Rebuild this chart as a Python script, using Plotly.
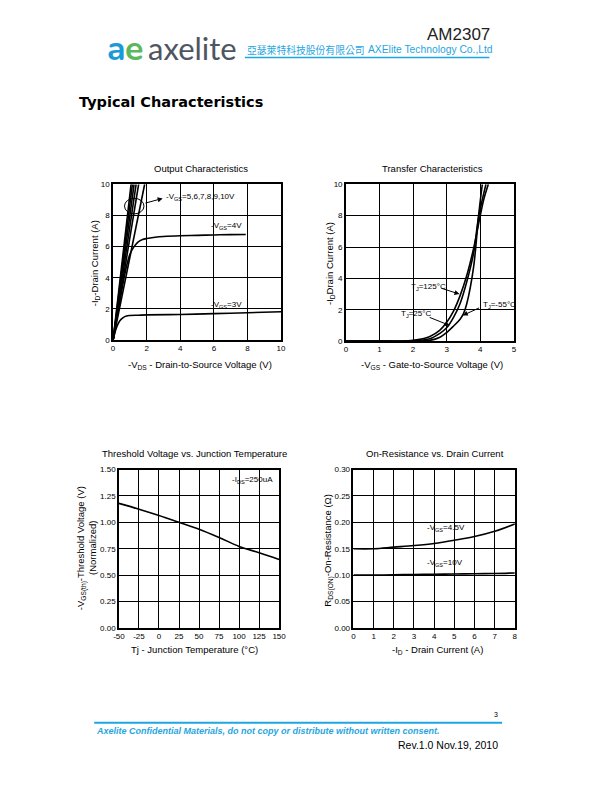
import plotly.graph_objects as go

# ---------------- data ----------------
# Output characteristics
out_hi_labels = ["5", "6", "7", "8", "9", "10"]
out_hi_vds = [[0, 0.95, 1.88], [0, 0.77, 1.52], [0, 0.70, 1.37], [0, 0.64, 1.25], [0, 0.59, 1.15], [0, 0.55, 1.07]]
out_hi_id = [[0, 5.0, 10], [0, 5.0, 10], [0, 5.0, 10], [0, 5.0, 10], [0, 5.0, 10], [0, 5.0, 10]]
out_v4_vds = [0, 0.25, 0.5, 0.75, 1.0, 1.25, 1.5, 1.75, 2.0, 2.5, 3.0, 4.0, 5.0, 6.0, 7.0, 7.9]
out_v4_id = [0, 1.6, 3.1, 4.5, 5.5, 6.0, 6.3, 6.45, 6.52, 6.6, 6.65, 6.7, 6.72, 6.75, 6.77, 6.78]
out_v3_vds = [0, 0.2, 0.4, 0.6, 0.8, 1.0, 1.5, 2.0, 4.0, 6.0, 8.0, 10.0]
out_v3_id = [0, 0.8, 1.25, 1.45, 1.55, 1.58, 1.6, 1.62, 1.65, 1.7, 1.76, 1.82]

# Transfer characteristics
tr_125_vgs = [0, 1.0, 1.5, 2.0, 2.5, 2.8, 3.0, 3.2, 3.4, 3.6, 3.8, 4.0, 4.1, 4.24]
tr_125_id = [0, 0.0, 0.01, 0.05, 0.3, 0.7, 1.2, 1.9, 2.9, 4.2, 5.9, 8.0, 9.0, 10]
tr_25_vgs = [0, 1.0, 2.0, 2.5, 2.8, 3.0, 3.2, 3.4, 3.6, 3.8, 3.95, 4.17]
tr_25_id = [0, 0.0, 0.02, 0.15, 0.5, 0.85, 1.5, 2.4, 3.8, 5.6, 7.9, 10]
tr_m55_vgs = [0, 1.0, 2.0, 2.5, 2.8, 3.0, 3.2, 3.4, 3.5, 3.6, 3.8, 3.95, 4.06]
tr_m55_id = [0, 0.0, 0.0, 0.05, 0.25, 0.55, 0.95, 1.4, 1.75, 2.4, 4.7, 8.0, 10]

# Threshold voltage vs temperature
th_tj = [-50, -25, 0, 25, 50, 75, 100, 125, 150]
th_vth = [1.18, 1.125, 1.065, 1.0, 0.935, 0.857, 0.772, 0.712, 0.648]
th_tick_vals = [-50, -25, 0, 25, 50, 75, 100, 125, 150]
th_tick_text = ["-50", "-25", "0", "25", "50", "75", "100", "125", "150"]

# On-resistance vs drain current
ron_id = [0, 1, 2, 3, 4, 5, 6, 7, 8]
ron_45 = [0.150, 0.150, 0.153, 0.156, 0.160, 0.166, 0.173, 0.183, 0.197]
ron_10 = [0.100, 0.100, 0.1005, 0.101, 0.1015, 0.102, 0.1025, 0.103, 0.104]

# The page body has an 8px margin; the figure is sized to fit inside the window
OFF = 8
W, H = 612 - 2 * OFF, 792 - 2 * OFF
FONT = "Liberation Sans, Arial, sans-serif"
BLUE = "#1fa6e2"


def px(x):
    return (x - OFF) / W


def py(y):
    return 1 - (y - OFF) / H


fig = go.Figure()

line = dict(color="black", width=1.6)
for xs, ys in zip(out_hi_vds, out_hi_id):
    fig.add_trace(go.Scatter(x=xs, y=ys, mode="lines", line=line, xaxis="x", yaxis="y", showlegend=False))
fig.add_trace(go.Scatter(x=out_v4_vds, y=out_v4_id, mode="lines", line=dict(color="black", width=1.6, shape="spline"), xaxis="x", yaxis="y", showlegend=False))
fig.add_trace(go.Scatter(x=out_v3_vds, y=out_v3_id, mode="lines", line=dict(color="black", width=1.6, shape="spline"), xaxis="x", yaxis="y", showlegend=False))

for xs, ys in [(tr_125_vgs, tr_125_id), (tr_25_vgs, tr_25_id), (tr_m55_vgs, tr_m55_id)]:
    fig.add_trace(go.Scatter(x=xs, y=ys, mode="lines", line=dict(color="black", width=1.6, shape="spline"), xaxis="x2", yaxis="y2", showlegend=False))

fig.add_trace(go.Scatter(x=th_tj, y=th_vth, mode="lines", line=dict(color="black", width=1.6, shape="spline"), xaxis="x3", yaxis="y3", showlegend=False))

fig.add_trace(go.Scatter(x=ron_id, y=ron_45, mode="lines", line=dict(color="black", width=1.6, shape="spline"), xaxis="x4", yaxis="y4", showlegend=False))
fig.add_trace(go.Scatter(x=ron_id, y=ron_10, mode="lines", line=dict(color="black", width=1.6, shape="spline"), xaxis="x4", yaxis="y4", showlegend=False))


def ax(dom, rng, dtick, fmt=None):
    d = dict(domain=dom, range=rng, dtick=dtick, tick0=rng[0], showgrid=True, gridcolor="black", gridwidth=1,
             showline=True, linecolor="black", linewidth=1.5, mirror=True, ticks="", zeroline=False,
             tickfont=dict(family=FONT, size=8, color="black"), fixedrange=True)
    if fmt:
        d["tickformat"] = fmt
    return d


x3 = ax([px(115.3), px(279)], [-50, 150], 25)
x3.update(tickmode="array", tickvals=th_tick_vals, ticktext=th_tick_text)

layout = dict(
    width=W, height=H, autosize=False, margin=dict(l=0, r=0, t=0, b=0),
    paper_bgcolor="white", plot_bgcolor="white",
    xaxis=dict(**ax([px(109.3), px(281)], [0, 10], 2), anchor="y"),
    yaxis=dict(**ax([py(340), py(182.3)], [0, 10], 2), anchor="x"),
    xaxis2=dict(**ax([px(347.3), px(519)], [0, 5], 1), anchor="y2"),
    yaxis2=dict(**ax([py(341), py(182.3)], [0, 10], 2), anchor="x2"),
    xaxis3=dict(**x3, anchor="y3"),
    yaxis3=dict(**ax([py(631), py(471)], [0, 1.5], 0.25, ".2f"), anchor="x3"),
    xaxis4=dict(**ax([px(355), px(520)], [0, 8], 1), anchor="y4"),
    yaxis4=dict(**ax([py(631), py(471)], [0, 0.3], 0.05, ".2f"), anchor="x4"),
)
fig.update_layout(**layout)

ann = []


def ptext(text, x, y, size=9, xanchor="center", yanchor="middle", color="black", angle=0, family=FONT):
    ann.append(dict(text=text, x=px(x), y=py(y), xref="paper", yref="paper", showarrow=False,
                    xanchor=xanchor, yanchor=yanchor, textangle=angle,
                    font=dict(family=family, size=size, color=color)))


def dtext(text, x, y, xr, yr, size=8, xanchor="left"):
    ann.append(dict(text=text, x=x, y=y, xref=xr, yref=yr, showarrow=False, xanchor=xanchor, yanchor="middle",
                    font=dict(family=FONT, size=size, color="black")))


def arrow(x, y, axx, ayy, xr, yr):
    ann.append(dict(text="", x=x, y=y, ax=axx, ay=ayy, xref=xr, yref=yr, axref=xr, ayref=yr,
                    showarrow=True, arrowhead=2, arrowsize=1, arrowwidth=1, arrowcolor="black", standoff=0))


# chart titles
ptext("Output Characteristics", 199, 166, 9.5)
ptext("Transfer Characteristics", 436, 166, 9.5)
ptext("Threshold Voltage vs. Junction Temperature", 193, 455, 9.5)
ptext("On-Resistance vs. Drain Current", 438, 455, 9.5)

# axis titles
ptext("-V<sub>DS</sub> - Drain-to-Source Voltage (V)", 198, 365, 9.5)
ptext("-V<sub>GS</sub> - Gate-to-Source Voltage (V)", 435, 365, 9.5)
ptext("Tj - Junction Temperature (°C)", 193, 653, 9.5)
ptext("-I<sub>D</sub> - Drain Current (A)", 441, 653, 9.5)
ptext("-I<sub>D</sub>-Drain Current (A)", 91, 262, 9.5, angle=-90)
ptext("-I<sub>D</sub>Drain Current (A)", 331, 262, 9.5, angle=-90)
ptext("-V<sub>GS(th)</sub>-Threshold Voltage (V)", 77, 550, 9.5, angle=-90)
ptext("(Normalized)", 88, 550, 9.5, angle=-90)
ptext("R<sub>DS(ON)</sub>-On-Resistance (Ω)", 330, 552, 9.5, angle=-90)

# chart 1 labels
dtext("-V<sub>GS</sub>=5,6,7,8,9,10V", 3.05, 9.2, "x", "y")
dtext("-V<sub>GS</sub>=4V", 5.7, 7.35, "x", "y")
dtext("-V<sub>GS</sub>=3V", 5.7, 2.28, "x", "y")
arrow(2.95, 9.09, 1.84, 8.77, "x", "y")

# chart 2 labels
dtext("T<sub>J</sub>=125°C", 1.87, 3.47, "x2", "y2")
dtext("T<sub>J</sub>=25°C", 1.58, 1.76, "x2", "y2")
dtext("T<sub>J</sub>=-55°C", 4.03, 2.33, "x2", "y2")
arrow(3.38, 3.0, 2.8, 3.4, "x2", "y2")
arrow(3.09, 1.0, 2.45, 1.55, "x2", "y2")
arrow(3.48, 1.64, 4.01, 2.16, "x2", "y2")

# chart 3 label
dtext("-I<sub>DS</sub>=250uA", 89, 1.40, "x3", "y3")

# chart 4 labels
dtext("-V<sub>GS</sub>=4.5V", 3.54, 0.189, "x4", "y4")
dtext("-V<sub>GS</sub>=10V", 3.54, 0.123, "x4", "y4")

# header
ptext("AM2307", 497, 31, 17, xanchor="right", color="#222222")
ptext("<b>a</b>", 113, 45, 34, color="#1a9ad6", family="Nunito, Lato, sans-serif")
ptext("<b>e</b>", 131, 45, 34, color="#5cb85c", family="Nunito, Lato, sans-serif")
ptext("axelite", 143, 44, 31, xanchor="left", color="#4d5661", family="Lato, Open Sans, sans-serif")
ptext("亞瑟萊特科技股份有限公司", 244, 46, 9.8, xanchor="left", color=BLUE, family="Noto Sans CJK TC")
ptext("AXElite Technology Co.,Ltd", 368, 46, 10.3, xanchor="left", color=BLUE)
ptext("<b>Typical Characteristics</b>", 72, 99, 14.5, xanchor="left", family="DejaVu Sans, Verdana, sans-serif")

# footer
ptext("3", 501, 719, 7, xanchor="center")
ptext("<b><i>Axelite Confidential Materials, do not copy or distribute without written consent.</i></b>", 90, 735, 9, xanchor="left", color=BLUE)
ptext("Rev.1.0 Nov.19, 2010", 505, 749.5, 10.5, xanchor="right")

fig.update_layout(annotations=ann)

shapes = [
    dict(type="circle", xref="x", yref="y", x0=0.68, x1=1.84, y0=8.1, y1=9.1, line=dict(color="black", width=1)),
    dict(type="line", xref="paper", yref="paper", x0=px(244), x1=px(494), y0=py(54), y1=py(54), line=dict(color=BLUE, width=1.5)),
    dict(type="line", xref="paper", yref="paper", x0=px(90), x1=px(507), y0=py(727), y1=py(727), line=dict(color=BLUE, width=2)),
]
fig.update_layout(shapes=shapes)

fig.write_html("out.html", config={"displayModeBar": False})
